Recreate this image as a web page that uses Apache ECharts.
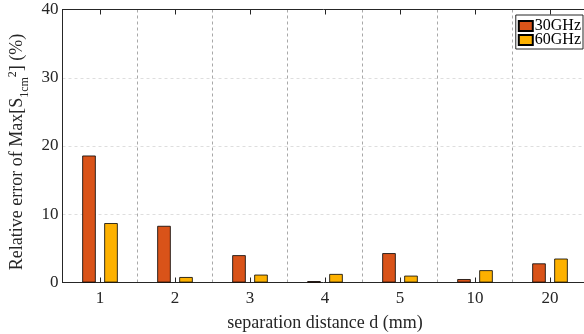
<!DOCTYPE html>
<html><head><meta charset="utf-8">
<script src="https://cdn.jsdelivr.net/npm/echarts@6/dist/echarts.min.js"></script>
<style>html,body{margin:0;padding:0;background:#fff}#c{width:584px;height:334px}</style>
</head><body><div id="c"></div>
<script>
const categories = ['1','2','3','4','5','10','20'];
const ghz30 = [18.6, 8.3, 4.0, 0.2, 4.3, 0.5, 2.8];
const ghz60 = [8.7, 0.8, 1.15, 1.25, 1.0, 1.8, 3.5];
const seriesNames = ['30GHz','60GHz'];
const yTicks = [0, 10, 20, 30, 40];

const FONT = 'Liberation Serif';
const TXT = '#262626';
const chart = echarts.init(document.getElementById('c'), null, {renderer:'canvas'});
chart.setOption({
  animation: false,
  textStyle: {fontFamily: FONT, color: TXT},
  grid: {left: 62.5, top: 9.5, width: 525, height: 273, containLabel: false, outerBoundsMode: 'none'},
  legend: {
    data: seriesNames, right: 1, top: 15, orient: 'vertical',
    itemWidth: 14, itemHeight: 10, itemGap: -2, padding: [3, 2, 1, 2],
    backgroundColor: '#fff', borderColor: '#262626', borderWidth: 1,
    textStyle: {fontFamily: FONT, fontSize: 16, color: '#000', padding: [0,0,0,-3]},
    icon: 'rect'
  },
  xAxis: [{
    type: 'category', data: categories, position: 'bottom',
    axisLine: {lineStyle: {color: TXT, width: 1}},
    axisTick: {show: true, inside: true, alignWithLabel: true, length: 5, lineStyle: {color: TXT}},
    axisLabel: {fontFamily: FONT, fontSize: 17, color: TXT, margin: 8},
    splitLine: {show: true, interval: 0, lineStyle: {color: '#a8a8a8', type: [3, 3], width: 1}},
    name: 'separation distance d (mm)', nameLocation: 'middle', nameGap: 32,
    nameTextStyle: {fontFamily: FONT, fontSize: 18, color: TXT}
  }, {
    type: 'category', data: categories, position: 'top',
    axisLine: {lineStyle: {color: TXT, width: 1}},
    axisTick: {show: true, inside: true, alignWithLabel: true, length: 5, lineStyle: {color: TXT}},
    axisLabel: {show: false}, splitLine: {show: false}
  }],
  yAxis: {
    type: 'value', min: yTicks[0], max: yTicks[yTicks.length-1], interval: 10,
    axisLine: {show: true, lineStyle: {color: TXT, width: 1}},
    axisTick: {show: false},
    axisLabel: {fontFamily: FONT, fontSize: 17, color: TXT, margin: 4},
    splitLine: {show: true, lineStyle: {color: '#dedede', type: [3, 3], width: 1}},
    name: 'Relative error of Max[S{sub|1cm}{sup|2}] (%)', nameLocation: 'middle', nameGap: 29,
    nameTextStyle: {
      fontFamily: FONT, fontSize: 18, color: TXT, padding: [0, 12, 0, 0],
      rich: {
        sub: {fontFamily: FONT, fontSize: 12, color: TXT, verticalAlign: 'bottom', padding: [0,0,-4,0]},
        sup: {fontFamily: FONT, fontSize: 12, color: TXT, verticalAlign: 'top', padding: [-2,0,0,0]}
      }
    }
  },
  series: [{
    name: seriesNames[0], type: 'bar', data: ghz30, barWidth: 13.5, barGap: '63%',
    itemStyle: {color: '#D95319', borderColor: '#000', borderWidth: 0.8}
  }, {
    name: seriesNames[1], type: 'bar', data: ghz60, barWidth: 13.5, barGap: '63%',
    itemStyle: {color: '#FDB100', borderColor: '#000', borderWidth: 0.8}
  }]
});
</script></body></html>
